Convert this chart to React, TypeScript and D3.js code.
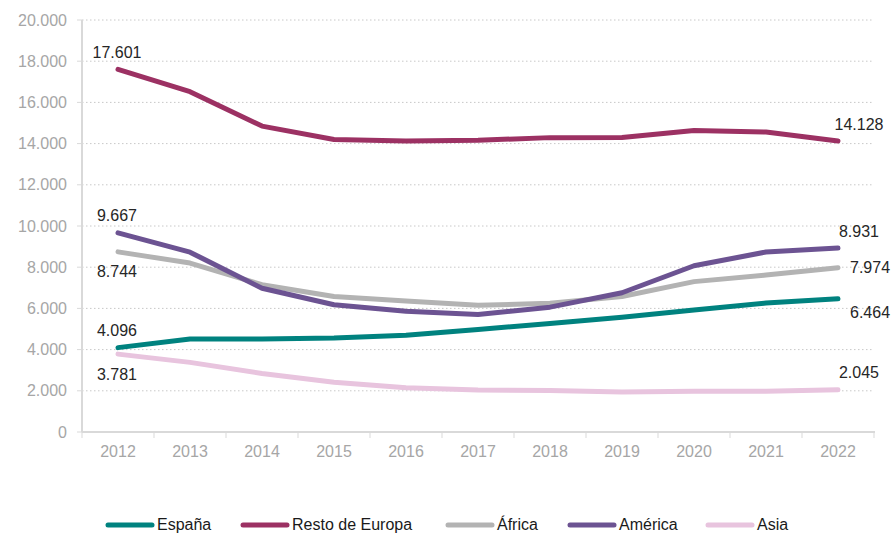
import React from "react";
import * as d3 from "d3";

const years = ["2012","2013","2014","2015","2016","2017","2018","2019","2020","2021","2022"];
const espana = [4096, 4510, 4520, 4560, 4700, 4980, 5270, 5570, 5920, 6260, 6464];
const restoEuropa = [17601, 16520, 14850, 14200, 14130, 14160, 14290, 14300, 14640, 14560, 14128];
const africa = [8744, 8200, 7150, 6580, 6360, 6150, 6250, 6580, 7300, 7620, 7974];
const america = [9667, 8730, 6980, 6180, 5860, 5700, 6060, 6760, 8070, 8740, 8931];
const asia = [3781, 3380, 2840, 2420, 2150, 2040, 2010, 1940, 1980, 1980, 2045];
const yTicks = [0, 2000, 4000, 6000, 8000, 10000, 12000, 14000, 16000, 18000, 20000];

const seriesNames = ["España", "Resto de Europa", "África", "América", "Asia"];
const seriesValues = [espana, restoEuropa, africa, america, asia];
const seriesColors = ["#00827f", "#9c3163", "#b3b3b3", "#6c5392", "#e8c4de"];
const firstLabelPos = ["above", "above", "below", "above", "below"];
const lastLabelPos = ["right-below", "above", "right", "above", "above"];

const fmt = (v: number) => {
  const s = Math.round(v).toString();
  return s.replace(/\B(?=(\d{3})+(?!\d))/g, ".");
};

export default function App() {
  const W = 895, H = 534;
  const left = 82, right = 874, top = 20, bottom = 432;
  const x = d3.scaleBand<string>().domain(years).range([left, right]);
  const y = d3.scaleLinear().domain([0, 20000]).range([bottom, top]);
  const cx = (yr: string) => (x(yr) as number) + x.bandwidth() / 2;
  const line = d3.line<number>().x((_, i) => cx(years[i])).y((v) => y(v));
  const font = "Arial, 'Liberation Sans', sans-serif";

  const legendX = [105, 240, 445, 567, 705];

  return (
    <svg width={W} height={H} style={{ position: "absolute", left: 0, top: 0 }} fontFamily={font}>
      {yTicks.map((t) => (
        <g key={t}>
          {t > 0 && (
            <line x1={left} x2={right} y1={y(t)} y2={y(t)} stroke="#c8c8c8" strokeWidth={1} strokeDasharray="1.5,2.5" />
          )}
          <line x1={left - 5} x2={left} y1={y(t)} y2={y(t)} stroke="#d9d9d9" strokeWidth={1} />
          <text x={67} y={y(t)} dy="0.35em" textAnchor="end" fontSize={16} fill="#a6a6a6">{fmt(t)}</text>
        </g>
      ))}
      <line x1={left} x2={left} y1={top} y2={bottom} stroke="#d9d9d9" strokeWidth={2} />
      <line x1={left} x2={right + 1} y1={bottom} y2={bottom} stroke="#d9d9d9" strokeWidth={2} />
      {[...years.map((yr) => x(yr) as number), right].map((px, i) => (
        <line key={i} x1={px} x2={px} y1={bottom} y2={bottom + 6} stroke="#d9d9d9" strokeWidth={1} />
      ))}
      {years.map((yr) => (
        <text key={yr} x={cx(yr)} y={457} textAnchor="middle" fontSize={16} fill="#a6a6a6">{yr}</text>
      ))}
      {seriesValues.map((vals, si) => (
        <path key={si} d={line(vals) as string} fill="none" stroke={seriesColors[si]} strokeWidth={5} strokeLinejoin="round" strokeLinecap="round" />
      ))}
      {seriesValues.map((vals, si) => {
        const v0 = vals[0];
        const v1 = vals[vals.length - 1];
        const x0 = cx(years[0]);
        const x1 = cx(years[years.length - 1]);
        const y0 = firstLabelPos[si] === "above" ? y(v0) - 17 : y(v0) + 20;
        let lx = x1 + 21, ly = y(v1) - 17, anchor = "middle";
        if (lastLabelPos[si] === "right") { lx = x1 + 12; ly = y(v1) + 0; anchor = "start"; }
        if (lastLabelPos[si] === "right-below") { lx = x1 + 12; ly = y(v1) + 14; anchor = "start"; }
        return (
          <g key={si}>
            <text x={x0 - 1} y={y0} dy="0.35em" textAnchor="middle" fontSize={16} fill="#262626">{fmt(v0)}</text>
            <text x={lx} y={ly} dy="0.35em" textAnchor={anchor as any} fontSize={16} fill="#262626">{fmt(v1)}</text>
          </g>
        );
      })}
      {seriesNames.map((n, i) => (
        <g key={n}>
          <line x1={legendX[i] + 3} x2={legendX[i] + 47} y1={525} y2={525} stroke={seriesColors[i]} strokeWidth={5} strokeLinecap="round" />
          <text x={legendX[i] + 52} y={530} fontSize={16} fill="#1a1a1a">{n}</text>
        </g>
      ))}
    </svg>
  );
}
